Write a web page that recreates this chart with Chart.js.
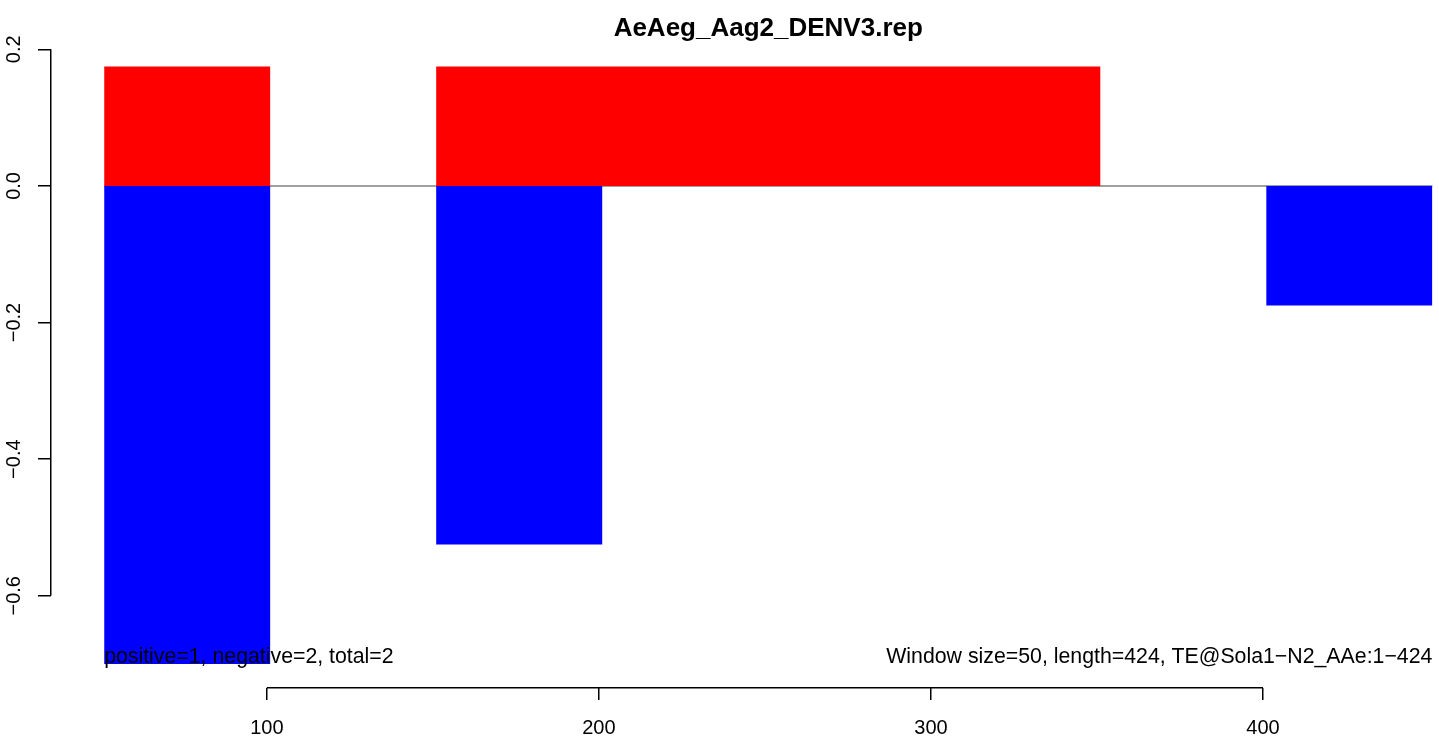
<!DOCTYPE html>
<html>
<head>
<meta charset="utf-8">
<script src="https://cdn.jsdelivr.net/npm/chart.js@4/dist/chart.umd.min.js"></script>
<style>
html,body{margin:0;padding:0;background:#fff;overflow:hidden}
#wrap{width:1439px;height:738px;position:relative}
</style>
</head>
<body>
<div id="wrap"><canvas id="c" width="1439" height="738"></canvas></div>
<script>
const chartTitle = 'AeAeg_Aag2_DENV3.rep';
const windowSize = 50;
const windowStarts = [51, 101, 151, 201, 251, 301, 351, 401];
const positiveValues = [0.175, 0, 0.175, 0.175, 0.175, 0.175, 0, 0];
const negativeValues = [-0.7, 0, -0.525, 0, 0, 0, 0, -0.175];
const xTicks = [100, 200, 300, 400];
const yTicks = [-0.6, -0.4, -0.2, 0, 0.2];
const leftNote = 'positive=1, negative=2, total=2';
const rightNote = 'Window size=50, length=424, TE@Sola1\u2212N2_AAe:1\u2212424';

const FONT = "'Liberation Sans', Arial, Helvetica, sans-serif";

// data extents (R-style 4% axis extension)
const dataXMin = Math.min(...windowStarts);
const dataXMax = Math.max(...windowStarts) + windowSize;
const dataYMin = Math.min(...negativeValues);
const dataYMax = Math.max(...positiveValues);
const xExt = (dataXMax - dataXMin) * 0.04;
const yExt = (dataYMax - dataYMin) * 0.04;
const xMin = dataXMin - xExt;
const xRegionMax = dataXMax + xExt;   // R plot region right (beyond the picture)
const xMax = 453;                     // visible part of the region
const yMin = dataYMin - yExt;
const yMax = dataYMax + yExt;

function stepPoints(vals) {
  const pts = [];
  windowStarts.forEach((s, i) => {
    const v = vals[i];
    pts.push({x: s, y: 0}, {x: s, y: v}, {x: s + windowSize, y: v}, {x: s + windowSize, y: 0});
  });
  return pts;
}

const rPlot = {
  id: 'rPlot',
  afterLayout(chart) {
    const t = chart.titleBlock, xs = chart.scales.x;
    if (t && xs) {
      const c = xs.getPixelForValue((xMin + xRegionMax) / 2);
      const w = t.right - t.left;
      t.left = c - w / 2;
      t.right = c + w / 2;
    }
  },
  afterDraw(chart) {
    const ctx = chart.ctx, xs = chart.scales.x, ys = chart.scales.y, ca = chart.chartArea;
    ctx.save();
    ctx.strokeStyle = '#000';
    ctx.lineWidth = 1.5;
    ctx.lineCap = 'butt';
    // y axis line between first and last tick
    const ax = Math.round(ca.left - 0.75) + 0.75;
    ctx.beginPath();
    ctx.moveTo(ax, ys.getPixelForValue(Math.max(...yTicks)));
    ctx.lineTo(ax, ys.getPixelForValue(Math.min(...yTicks)));
    ctx.stroke();
    // x axis line between first and last tick
    const ay = Math.round(ca.bottom - 0.75) + 0.75;
    ctx.beginPath();
    ctx.moveTo(xs.getPixelForValue(Math.min(...xTicks)), ay);
    ctx.lineTo(xs.getPixelForValue(Math.max(...xTicks)), ay);
    ctx.stroke();
    // notes
    ctx.fillStyle = '#000';
    ctx.font = '21.3px ' + FONT;
    ctx.textBaseline = 'alphabetic';
    const ny = ys.getPixelForValue(dataYMin) - 1;
    ctx.textAlign = 'left';
    ctx.fillText(leftNote, xs.getPixelForValue(dataXMin), ny);
    ctx.textAlign = 'right';
    ctx.fillText(rightNote, xs.getPixelForValue(dataXMax), ny);
    ctx.restore();
  }
};

new Chart(document.getElementById('c'), {
  type: 'line',
  data: {
    datasets: [
      {
        label: 'positive',
        data: stepPoints(positiveValues),
        fill: 'origin',
        backgroundColor: '#FF0000',
        borderColor: 'rgba(0,0,0,0)',
        borderWidth: 0,
        pointRadius: 0,
        tension: 0,
        order: 1
      },
      {
        label: 'negative',
        data: stepPoints(negativeValues),
        fill: 'origin',
        backgroundColor: '#0000FF',
        borderColor: 'rgba(0,0,0,0)',
        borderWidth: 0,
        pointRadius: 0,
        tension: 0,
        order: 2
      },
      {
        label: 'zero',
        data: [{x: dataXMin, y: 0}, {x: dataXMax, y: 0}],
        fill: false,
        borderColor: '#808080',
        borderWidth: 1.5,
        pointRadius: 0,
        order: 3
      }
    ]
  },
  options: {
    responsive: false,
    animation: false,
    devicePixelRatio: 1,
    events: [],
    layout: {autoPadding: false, padding: {left: 0, right: 0, top: 0, bottom: 0}},
    plugins: {
      legend: {display: false},
      tooltip: {enabled: false},
      title: {
        display: true,
        text: chartTitle,
        fullSize: false,
        align: 'center',
        color: '#000',
        font: {family: FONT, size: 26, weight: 'bold', lineHeight: 1},
        padding: {top: 15.5, bottom: 1}
      }
    },
    scales: {
      x: {
        type: 'linear',
        min: xMin,
        max: xMax,
        afterBuildTicks: s => { s.ticks = xTicks.map(v => ({value: v})); },
        afterFit: s => { s.height = 50; },
        border: {display: false},
        grid: {drawOnChartArea: false, drawTicks: true, tickLength: 12, color: '#000', lineWidth: 1.5},
        ticks: {color: '#000', font: {family: FONT, size: 20}, padding: 16, maxRotation: 0, minRotation: 0, autoSkip: false}
      },
      y: {
        type: 'linear',
        min: yMin,
        max: yMax,
        afterBuildTicks: s => { s.ticks = yTicks.map(v => ({value: v})); },
        afterFit: s => { s.width = 51; },
        border: {display: false},
        grid: {drawOnChartArea: false, drawTicks: true, tickLength: 13, color: '#000', lineWidth: 1.5},
        ticks: {
          color: '#000',
          font: {family: FONT, size: 20},
          padding: 4,
          minRotation: 90,
          maxRotation: 90,
          crossAlign: 'center',
          autoSkip: false,
          callback: v => (v < 0 ? '\u2212' : '') + Math.abs(v).toFixed(1)
        }
      }
    }
  },
  plugins: [rPlot]
});
</script>
</body>
</html>
